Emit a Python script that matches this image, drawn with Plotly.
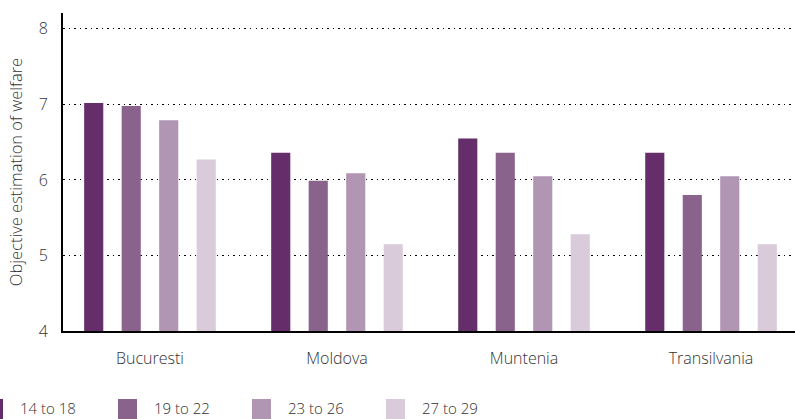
import plotly.graph_objects as go

regions = ["Bucuresti", "Moldova", "Muntenia", "Transilvania"]
age_groups = ["14 to 18", "19 to 22", "23 to 26", "27 to 29"]
v_14_18 = [7.02, 6.36, 6.55, 6.36]
v_19_22 = [6.98, 5.99, 6.36, 5.80]
v_23_26 = [6.79, 6.09, 6.05, 6.05]
v_27_29 = [6.27, 5.15, 5.28, 5.15]
series = [v_14_18, v_19_22, v_23_26, v_27_29]
colors = ["#652D69", "#8A638C", "#B196B3", "#D9CBDA"]
y_ticks = [4, 5, 6, 7, 8]

W, H = 795, 419
ML, MR, MT, MB = 63, 0, 13, 88
PW, PH = W - ML - MR, H - MT - MB

fig = go.Figure()
for name, vals, col in zip(age_groups, series, colors):
    fig.add_trace(go.Bar(x=regions, y=vals, name=name, marker_color=col,
                         marker_line_width=0, showlegend=False))

font_family = "Open Sans, Noto Sans, sans-serif"
txt_col = "#333333"
FW = 300

# manual legend (pixel positions converted to paper coords)
def px_x(p):
    return (p - ML) / PW

def px_y(p):
    return (MT + PH - p) / PH

leg_x = [-16, 118, 252, 386]
shapes = []
annotations = []
for lx, name, col in zip(leg_x, age_groups, colors):
    shapes.append(dict(type="rect", xref="paper", yref="paper",
                       x0=px_x(lx), x1=px_x(lx + 19), y0=px_y(422), y1=px_y(399),
                       fillcolor=col, line_width=0, layer="above"))
    annotations.append(dict(xref="paper", yref="paper", x=px_x(lx + 34), y=px_y(408),
                            text=name, showarrow=False, xanchor="left", yanchor="middle",
                            font=dict(family=font_family, size=15, color=txt_col, weight=FW)))

fig.update_layout(
    width=W, height=H,
    margin=dict(l=ML, r=MR, t=MT, b=MB, pad=0),
    paper_bgcolor="white", plot_bgcolor="white",
    barmode="group", bargap=0.198, bargroupgap=0.49,
    font=dict(family=font_family, color=txt_col, weight=FW),
    shapes=shapes, annotations=annotations,
    xaxis=dict(range=[-0.465, 3.449], showgrid=False, showline=True,
               linecolor="black", linewidth=2, ticks="", zeroline=False,
               tickfont=dict(size=16, color=txt_col, weight=FW), ticklabelstandoff=12),
    yaxis=dict(range=[4, 8.21], tickvals=y_ticks, showline=True,
               linecolor="black", linewidth=2, ticks="", zeroline=False,
               showgrid=True, gridcolor="black", gridwidth=1, griddash="1.5px,4px",
               tickfont=dict(size=16, color=txt_col, weight=FW), ticklabelstandoff=10,
               title=dict(text="Objective estimation of welfare", standoff=12,
                          font=dict(size=16.5, color=txt_col, weight=FW))),
)

fig.write_html("out.html", config={"displayModeBar": False},
               post_script="document.body.style.margin='0';document.body.style.overflow='hidden';")
